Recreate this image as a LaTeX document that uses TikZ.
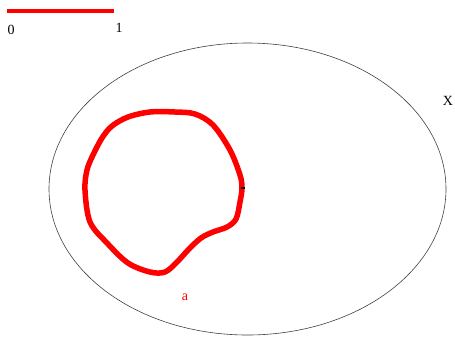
\documentclass[tikz,border=0pt]{standalone}
\usepackage{fontspec}
\setmainfont{Liberation Serif}
\begin{document}
\begin{tikzpicture}[x=1pt,y=-1pt,
  lbl/.style={inner sep=0pt,font=\fontsize{14}{14}\selectfont},
  redline/.style={draw=red,line width=5.5pt,line cap=round,line join=round}]
\useasboundingbox (0,0) rectangle (455,341);
\draw[redline,line width=3.5pt,line cap=butt] (7,11) -- (114,11);
\node[lbl] (n0) at (11,30) {0};
\node[lbl] (n1) at (119,28) {1};
\draw[black!75,line width=0.6pt] (247.5,189) ellipse [x radius=198.5, y radius=146];
\node[lbl] (X) at (448,101) {X};
\node[lbl,text=red] (a) at (185,297) {a};
\draw[redline] plot[smooth cycle,tension=0.55] coordinates {
 (128,117) (150,112) (175,112) (195,114) (213,125) (230,150) (240,175) (242,188)
 (240,202) (236,219) (227,227) (213,232) (201,238) (189,249) (177,262) (165,272)
 (150,272) (128,263) (107,243) (90,222) (85,190) (87,170) (93,155) (102,138) (112,126)};
\draw[black,line width=1.5pt] (240.5,188) -- (244.5,188);
\end{tikzpicture}
\end{document}
